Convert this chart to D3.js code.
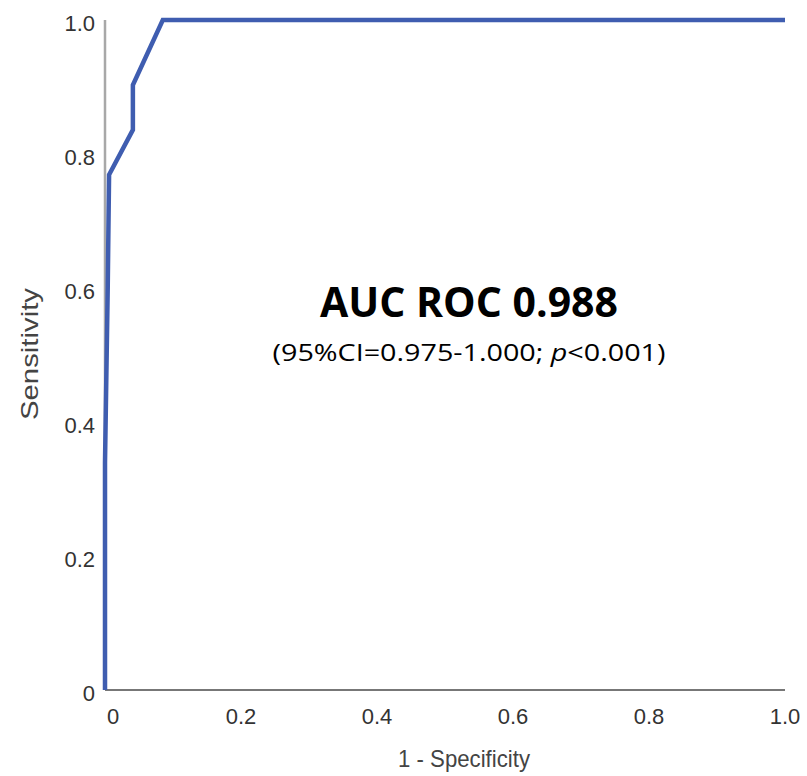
<!DOCTYPE html>
<html>
<head>
<meta charset="utf-8">
<script src="https://cdn.jsdelivr.net/npm/d3@7"></script>
<style>
  body { margin: 0; background: #fff; }
</style>
</head>
<body>
<svg id="roc" width="807" height="776"></svg>
<script>
// ROC curve points
var fpr = [0, 0, 0.004, 0.006, 0.041, 0.041, 0.085, 1.0];
var tpr = [0, 0.34, 0.6, 0.769, 0.836, 0.903, 1.0, 1.0];
var yTicks = [0, 0.2, 0.4, 0.6, 0.8, 1.0];
var xTicks = [0, 0.2, 0.4, 0.6, 0.8, 1.0];
var yTickLabels = ["0", "0.2", "0.4", "0.6", "0.8", "1.0"];
var xTickLabels = ["0", "0.2", "0.4", "0.6", "0.8", "1.0"];

var svg = d3.select("svg#roc");

var x = d3.scaleLinear().domain([0, 1]).range([105, 785]);
var y = d3.scaleLinear().domain([0, 1]).range([690, 20]);

var tickFont = "'Liberation Sans', Arial, sans-serif";

// y axis (light grey line)
svg.append("line")
    .attr("x1", x(0)).attr("x2", x(0))
    .attr("y1", y(0)).attr("y2", y(1))
    .style("stroke", "#a8a8a8")
    .attr("stroke-width", 2.5);

// x axis (darker line)
svg.append("line")
    .attr("x1", x(0)).attr("x2", x(1))
    .attr("y1", y(0)).attr("y2", y(0))
    .style("stroke", "#777")
    .attr("stroke-width", 2);

// tick labels
svg.append("g").selectAll("text")
    .data(yTicks)
    .enter().append("text")
    .attr("x", 95)
    .attr("y", function(d) { return y(d) + 3; })
    .attr("dy", "0.35em")
    .attr("text-anchor", "end")
    .style("font-family", tickFont)
    .style("font-size", "22px")
    .style("fill", "#333")
    .text(function(d, i) { return yTickLabels[i]; });

svg.append("g").selectAll("text")
    .data(xTicks)
    .enter().append("text")
    .attr("x", function(d, i) { return x(d) + (i == 0 ? 8 : 0); })
    .attr("y", 724)
    .attr("text-anchor", "middle")
    .style("font-family", tickFont)
    .style("font-size", "22px")
    .style("fill", "#333")
    .text(function(d, i) { return xTickLabels[i]; });

// axis titles
svg.append("text")
    .attr("transform", "translate(38,354) rotate(-90)")
    .attr("text-anchor", "middle")
    .style("font-family", tickFont)
    .style("font-size", "24px")
    .style("fill", "#444")
    .attr("textLength", 132)
    .attr("lengthAdjust", "spacingAndGlyphs")
    .text("Sensitivity");

svg.append("text")
    .attr("x", 464)
    .attr("y", 767)
    .attr("text-anchor", "middle")
    .style("font-family", tickFont)
    .style("font-size", "24px")
    .style("fill", "#444")
    .attr("textLength", 132)
    .attr("lengthAdjust", "spacingAndGlyphs")
    .text("1 - Specificity");

// ROC curve
var line = d3.line()
    .x(function(d) { return x(d[0]); })
    .y(function(d) { return y(d[1]); });

svg.append("path")
    .datum(d3.zip(fpr, tpr))
    .attr("d", line)
    .style("fill", "none")
    .style("stroke", "#3f5db0")
    .attr("stroke-width", 4.5)
    .attr("stroke-linejoin", "miter");

// annotation
svg.append("text")
    .attr("x", 469)
    .attr("y", 317)
    .attr("text-anchor", "middle")
    .style("font-family", "'Open Sans', 'Noto Sans', sans-serif")
    .style("font-weight", "bold")
    .style("font-size", "41px")
    .style("fill", "#000")
    .attr("textLength", 298)
    .attr("lengthAdjust", "spacingAndGlyphs")
    .text("AUC ROC 0.988");

var sub = svg.append("text")
    .attr("x", 469)
    .attr("y", 361)
    .attr("text-anchor", "middle")
    .style("font-family", "'Open Sans', 'Noto Sans', sans-serif")
    .style("font-size", "23px")
    .style("fill", "#000");
sub.append("tspan").text("(95%CI=0.975-1.000; ");
sub.append("tspan").style("font-style", "italic").text("p");
sub.append("tspan").text("<0.001)");
sub.attr("textLength", 393).attr("lengthAdjust", "spacingAndGlyphs");
</script>
</body>
</html>
